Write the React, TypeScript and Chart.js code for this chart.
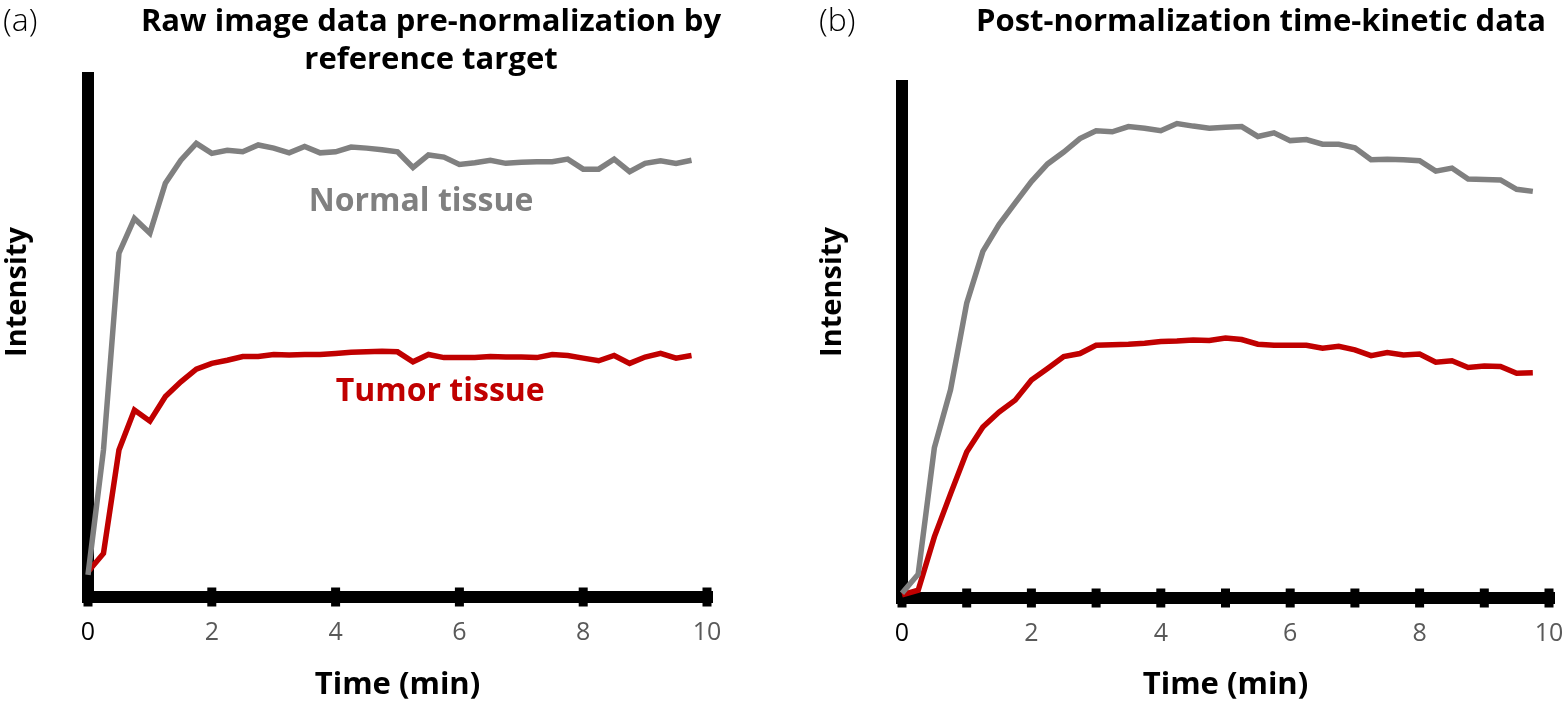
import React, { useEffect, useRef } from "react";
import { Chart, registerables } from "chart.js";

Chart.register(...registerables);

// ---------- data ----------
const times = [
  0, 0.25, 0.5, 0.75, 1, 1.25, 1.5, 1.75, 2, 2.25, 2.5, 2.75, 3, 3.25, 3.5, 3.75,
  4, 4.25, 4.5, 4.75, 5, 5.25, 5.5, 5.75, 6, 6.25, 6.5, 6.75, 7, 7.25, 7.5, 7.75,
  8, 8.25, 8.5, 8.75, 9, 9.25, 9.5, 9.75,
];

const rawNormal = [
  4.2, 28.0, 65.5, 72.1, 69.3, 78.8, 83.2, 86.4, 84.5, 85.1, 84.8, 86.1, 85.5, 84.6, 85.8, 84.6,
  84.8, 85.7, 85.5, 85.2, 84.8, 81.8, 84.2, 83.8, 82.4, 82.7, 83.2, 82.6, 82.8, 82.9, 82.9, 83.4,
  81.5, 81.5, 83.4, 81.0, 82.6, 83.1, 82.6, 83.2,
];
const rawTumor = [
  4.8, 8.3, 28.0, 35.6, 33.5, 38.2, 41.0, 43.4, 44.5, 45.1, 45.8, 45.8, 46.2, 46.1, 46.2, 46.2,
  46.4, 46.6, 46.7, 46.8, 46.7, 44.8, 46.2, 45.6, 45.6, 45.6, 45.8, 45.7, 45.7, 45.6, 46.2, 46.0,
  45.5, 45.0, 46.0, 44.5, 45.7, 46.4, 45.5, 46.0,
];

const normNormal = [
  0.9, 4.6, 29.0, 40.2, 56.9, 66.9, 72.1, 76.3, 80.4, 83.8, 86.1, 88.7, 90.2, 90.0, 91.0, 90.7,
  90.2, 91.6, 91.1, 90.7, 90.9, 91.0, 89.1, 89.8, 88.3, 88.5, 87.6, 87.6, 86.9, 84.6, 84.7, 84.6,
  84.4, 82.4, 83.0, 80.9, 80.8, 80.7, 78.9, 78.5,
];
const normTumor = [
  0.6, 1.5, 11.8, 20.1, 28.2, 33.0, 35.9, 38.2, 42.1, 44.3, 46.6, 47.2, 48.8, 48.9, 49.0, 49.2,
  49.5, 49.6, 49.8, 49.7, 50.2, 49.9, 49.0, 48.8, 48.8, 48.8, 48.2, 48.6, 47.9, 46.8, 47.4, 46.9,
  47.1, 45.5, 45.8, 44.5, 44.8, 44.7, 43.4, 43.5,
];

const xTickLabelsA = ["0", "2", "4", "6", "8", "10"];
const xTickLabelsB = ["0", "", "2", "", "4", "", "6", "", "8", "", "10"];

const GRAY = "#808080";
const RED = "#C00000";
const FONT = '"Open Sans", "Noto Sans", sans-serif';

type PanelCfg = {
  tag: string;
  tagX: number;
  titleLines: string[];
  titleX: number;
  titleY0: number;
  yTitleX: number;
  yTitleY: number;
  annotNormal: [number, number];
  annotTumor: [number, number];
  showAnnot: boolean;
  normal: number[];
  tumor: number[];
  tickLabels: string[];
  step: number;
  padLeft: number;
  padRight: number;
  top: number;
  bottom: number;
};

function makePlugins(cfg: PanelCfg) {
  const axes = {
    id: "customAxes",
    beforeDatasetsDraw(chart: any) {
      const { ctx } = chart;
      const xs = chart.scales.x;
      const ys = chart.scales.y;
      const x0 = xs.getPixelForValue(0);
      const x1 = xs.getPixelForValue(10);
      const y0 = ys.getPixelForValue(0);
      const yTop = ys.getPixelForValue(100);
      ctx.save();
      ctx.fillStyle = "#000";
      ctx.fillRect(x0 - 6, yTop, 12, y0 - yTop + 6);
      ctx.fillRect(x0 - 6, y0 - 6, x1 - x0 + 12, 12);
      xs.ticks.forEach((t: any) => {
        const px = xs.getPixelForValue(t.value);
        ctx.fillRect(px - 4.5, y0 - 9.5, 9, 19);
      });
      ctx.restore();
    },
  };
  const texts = {
    id: "customTexts",
    afterDraw(chart: any) {
      const { ctx } = chart;
      const xs = chart.scales.x;
      const ys = chart.scales.y;
      ctx.save();
      ctx.textBaseline = "middle";
      // panel tag
      ctx.fillStyle = "#000";
      ctx.font = `300 32px ${FONT}`;
      ctx.textAlign = "left";
      ctx.fillText(cfg.tag, cfg.tagX, cfg.titleY0);
      // title
      ctx.font = `bold 31px ${FONT}`;
      ctx.textAlign = "center";
      cfg.titleLines.forEach((l, i) => ctx.fillText(l, cfg.titleX, cfg.titleY0 + i * 38));
      // y title
      ctx.save();
      ctx.translate(cfg.yTitleX, cfg.yTitleY);
      ctx.rotate(-Math.PI / 2);
      ctx.font = `bold 29px ${FONT}`;
      ctx.fillText("Intensity", 0, 0);
      ctx.restore();
      // annotations
      if (cfg.showAnnot) {
        ctx.font = `bold 32px ${FONT}`;
        ctx.fillStyle = GRAY;
        ctx.fillText(
          "Normal tissue",
          xs.getPixelForValue(cfg.annotNormal[0]),
          ys.getPixelForValue(cfg.annotNormal[1])
        );
        ctx.fillStyle = RED;
        ctx.fillText(
          "Tumor tissue",
          xs.getPixelForValue(cfg.annotTumor[0]),
          ys.getPixelForValue(cfg.annotTumor[1])
        );
      }
      ctx.restore();
    },
  };
  return [axes, texts];
}

function Panel({ cfg, left }: { cfg: PanelCfg; left: number }) {
  const ref = useRef<HTMLCanvasElement | null>(null);
  useEffect(() => {
    if (!ref.current) return;
    const mk = (vals: number[]) => times.map((t, i) => ({ x: t, y: vals[i] }));
    const chart = new Chart(ref.current, {
      type: "line",
      data: {
        datasets: [
          {
            data: mk(cfg.normal),
            borderColor: GRAY,
            borderWidth: 5.5,
            pointRadius: 0,
            tension: 0,
            clip: false as any,
          },
          {
            data: mk(cfg.tumor),
            borderColor: RED,
            borderWidth: 5.5,
            pointRadius: 0,
            tension: 0,
            clip: false as any,
          },
        ],
      },
      options: {
        animation: false,
        responsive: false,
        events: [],
        layout: { padding: { left: 0, right: cfg.padRight, top: cfg.top, bottom: 0 } },
        plugins: { legend: { display: false }, title: { display: false }, tooltip: { enabled: false } },
        scales: {
          x: {
            type: "linear",
            min: 0,
            max: 10,
            grid: { display: false, drawTicks: false },
            border: { display: false },
            ticks: {
              stepSize: cfg.step,
              padding: 21,
              autoSkip: false,
              maxRotation: 0,
              font: { family: FONT, size: 25 },
              color: (c: any) => (c.tick && c.tick.value === 0 ? "#000" : "#595959"),
              callback: (_v: any, i: number) => cfg.tickLabels[i],
            },
            title: {
              display: true,
              text: "Time (min)",
              color: "#000",
              font: { family: FONT, size: 31, weight: "bold" },
              padding: { top: 0, bottom: 0 },
            },
            afterFit: (s: any) => {
              s.height = 704 - cfg.bottom;
              s.paddingLeft = 0;
              s.paddingRight = 0;
            },
          },
          y: {
            type: "linear",
            min: 0,
            max: 100,
            grid: { display: false, drawTicks: false },
            border: { display: false },
            ticks: { display: false },
            afterFit: (s: any) => {
              s.width = cfg.padLeft;
              s.paddingTop = 0;
              s.paddingBottom = 0;
            },
          },
        },
      },
      plugins: makePlugins(cfg) as any,
    });
    return () => chart.destroy();
  }, [cfg]);
  return (
    <canvas
      ref={ref}
      width={783}
      height={704}
      style={{ position: "absolute", left, top: 0, width: 783, height: 704 }}
    />
  );
}

const cfgA: PanelCfg = {
  tag: "(a)",
  tagX: 3,
  titleLines: ["Raw image data pre-normalization by", "reference target"],
  titleX: 431,
  titleY0: 22,
  yTitleX: 18,
  yTitleY: 292,
  annotNormal: [5.38, 75.2],
  annotTumor: [5.69, 39.0],
  showAnnot: true,
  normal: rawNormal,
  tumor: rawTumor,
  tickLabels: xTickLabelsA,
  step: 2,
  padLeft: 88,
  padRight: 783 - 707,
  top: 72,
  bottom: 597,
};

const cfgB: PanelCfg = {
  tag: "(b)",
  tagX: 36,
  titleLines: ["Post-normalization time-kinetic data"],
  titleX: 478,
  titleY0: 22,
  yTitleX: 50,
  yTitleY: 292,
  annotNormal: [0, 0],
  annotTumor: [0, 0],
  showAnnot: false,
  normal: normNormal,
  tumor: normTumor,
  tickLabels: xTickLabelsB,
  step: 1,
  padLeft: 119,
  padRight: 17,
  top: 80,
  bottom: 598,
};

export default function App() {
  return (
    <div style={{ position: "absolute", left: 0, top: 0, width: 1566, height: 704, background: "#fff" }}>
      <Panel cfg={cfgA} left={0} />
      <Panel cfg={cfgB} left={783} />
    </div>
  );
}
